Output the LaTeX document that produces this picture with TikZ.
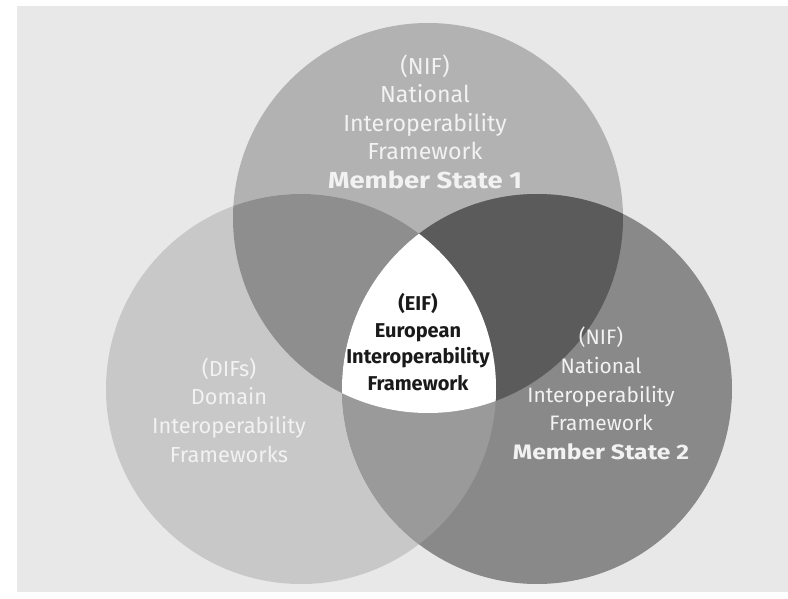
\documentclass[tikz,border=0pt]{standalone}
\usepackage{fontspec}
\setmainfont{Fira Sans}
\definecolor{bgc}{HTML}{E8E8E8}
\definecolor{topc}{HTML}{B2B2B2}
\definecolor{leftc}{HTML}{C8C8C8}
\definecolor{rightc}{HTML}{898989}
\definecolor{tlc}{HTML}{8E8E8E}
\definecolor{trc}{HTML}{5B5B5B}
\definecolor{lrc}{HTML}{9A9A9A}
\definecolor{lightt}{HTML}{F2F2F2}
\definecolor{darkt}{HTML}{1A1A1A}
\newcommand{\wideb}[1]{\scalebox{1.18}[1]{\textbf{#1}}}
\begin{document}
\begin{tikzpicture}[x=1pt,y=-1pt,
  lbl/.style={align=center, text=lightt, inner sep=0pt, font=\fontsize{23.2}{28.5}\selectfont},
  clbl/.style={align=center, text=darkt, inner sep=0pt, font=\fontsize{20}{26.7}\selectfont\bfseries}]
\useasboundingbox (0,0) rectangle (788,599);
\fill[white] (0,0) rectangle (788,599);
\fill[bgc] (17,6) rectangle (788,592);
\coordinate (T) at (428,218);
\coordinate (L) at (301,389);
\coordinate (R) at (537,389);
\fill[topc] (T) circle[radius=195];
\fill[leftc] (L) circle[radius=195];
\fill[rightc] (R) circle[radius=195];
\begin{scope}
  \clip (T) circle[radius=195];
  \fill[tlc] (L) circle[radius=195];
  \fill[trc] (R) circle[radius=195];
\end{scope}
\begin{scope}
  \clip (L) circle[radius=195];
  \fill[lrc] (R) circle[radius=195];
  \clip (R) circle[radius=195];
  \fill[white] (T) circle[radius=195];
\end{scope}
\node[lbl] (nif1) at (425,121.5) {(NIF)\\National\\Interoperability\\Framework\\\wideb{Member State 1}};
\node[lbl, font=\fontsize{21.8}{28.7}\selectfont] (dif) at (229,410) {(DIFs)\\Domain\\Interoperability\\Frameworks};
\node[lbl, font=\fontsize{20.9}{28.7}\selectfont] (nif2) at (601,393.5) {(NIF)\\National\\Interoperability\\Framework\\\wideb{Member State 2}};
\node[clbl] (eif) at (418,342) {(EIF)\\European\\Interoperability\\Framework};
\end{tikzpicture}
\end{document}
